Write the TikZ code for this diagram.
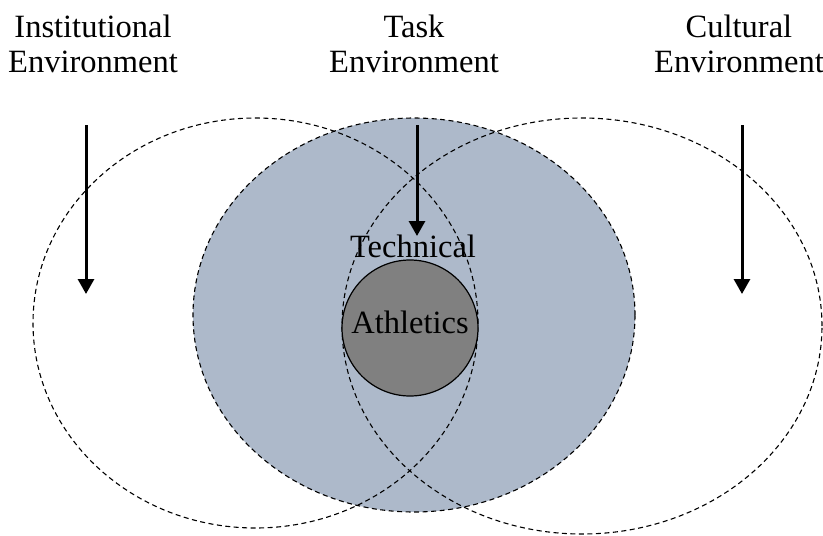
\documentclass[tikz,border=0pt]{standalone}
\usepackage{fontspec}
\setmainfont{Liberation Serif}
\usetikzlibrary{arrows.meta}
\definecolor{TaskBlue}{RGB}{ 173, 185, 202}
\definecolor{CoreGray}{RGB}{ 128, 128, 128}

\begin{document}
\begin{tikzpicture}[x=1pt, y=-1pt]
      \tikzstyle{envline}=[draw=black, line width=1.1pt, dash pattern=on 5pt off 3.5pt];
      \tikzstyle{lbl}=[inner sep=0, align=center, font=\fontsize{32.5}{35}\selectfont];
      \tikzstyle{flow}=[line width=3pt, -{Triangle[width=16pt, length=15pt]}];

      \useasboundingbox (0, 0) rectangle (823, 536);

      % centres of the three environments
      \coordinate (inst) at (255.5, 323);
      \coordinate (task) at (414, 315);
      \coordinate (cult) at (582, 326);

      \fill[TaskBlue] (task) ellipse [x radius=221pt, y radius=197pt];
      \draw[envline] (task) ellipse [x radius=221pt, y radius=197pt];
      \draw[envline] (inst) ellipse [x radius=222.5pt, y radius=205pt];
      \draw[envline] (cult) ellipse [x radius=240pt, y radius=208pt];

      \node[lbl, anchor=north] (instlbl) at (93, 15) {Institutional\\Environment};
      \node[lbl, anchor=north] (tasklbl) at (414, 15) {Task\\Environment};
      \node[lbl, anchor=north] (cultlbl) at (739, 15) {Cultural\\Environment};

      \node[draw, circle, fill=CoreGray, line width=1.2pt, minimum size=136pt,
            inner sep=0, font=\fontsize{32.5}{35}\selectfont,
            text height=22pt, text depth=12pt] (ath) at (410, 328) {Athletics};
      \node[lbl, anchor=base] (tech) at (413, 257) {Technical};

      \coordinate (instfrom) at (86, 125);
      \coordinate (instto) at (86, 294);
      \coordinate (taskfrom) at (417, 125);
      \coordinate (taskto) at (417, 236);
      \coordinate (cultfrom) at (742, 125);
      \coordinate (cultto) at (742, 294);

      \draw[flow] (instfrom) -- (instto);
      \draw[flow] (taskfrom) -- (taskto);
      \draw[flow] (cultfrom) -- (cultto);
\end{tikzpicture}
\end{document}
